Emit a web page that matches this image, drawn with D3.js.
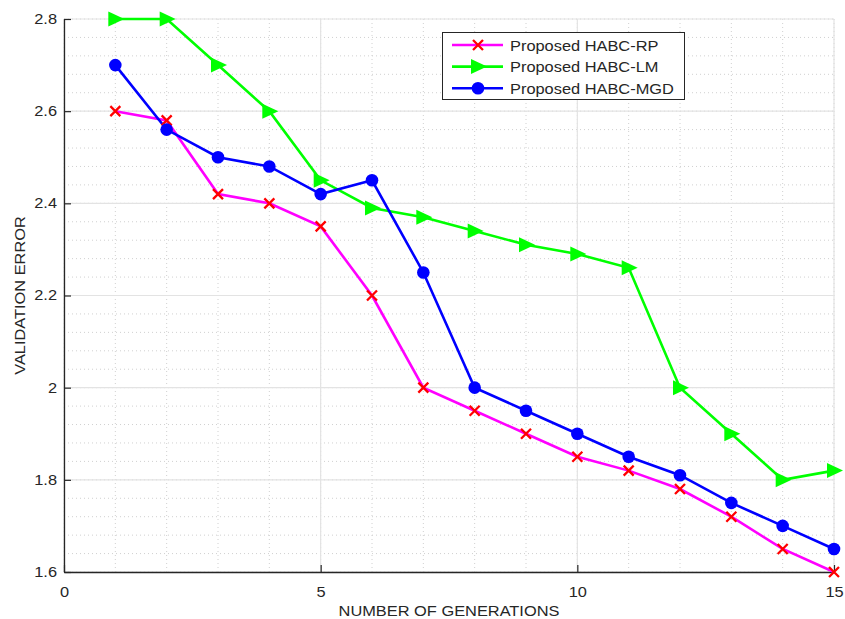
<!DOCTYPE html>
<html>
<head>
<meta charset="utf-8">
<script src="https://cdn.jsdelivr.net/npm/d3@7"></script>
<style>
  html, body { margin: 0; padding: 0; background: #fff; }
  svg { display: block; font-family: "Liberation Sans", Arial, sans-serif; }
</style>
</head>
<body>
<svg id="chart" width="845" height="619"></svg>
<script>
// Generations on the x axis
const generations = [1, 2, 3, 4, 5, 6, 7, 8, 9, 10, 11, 12, 13, 14, 15];

// Validation error for each training scheme
const habcRP  = [2.60, 2.58, 2.42, 2.40, 2.35, 2.20, 2.00, 1.95, 1.90, 1.85, 1.82, 1.78, 1.72, 1.65, 1.60];
const habcLM  = [2.80, 2.80, 2.70, 2.60, 2.45, 2.39, 2.37, 2.34, 2.31, 2.29, 2.26, 2.00, 1.90, 1.80, 1.82];
const habcMGD = [2.70, 2.56, 2.50, 2.48, 2.42, 2.45, 2.25, 2.00, 1.95, 1.90, 1.85, 1.81, 1.75, 1.70, 1.65];

const seriesNames = ["Proposed HABC-RP", "Proposed HABC-LM", "Proposed HABC-MGD"];

const xTicks = [0, 5, 10, 15];
const yTicks = [1.6, 1.8, 2.0, 2.2, 2.4, 2.6, 2.8];
const xLabel = "NUMBER OF GENERATIONS";
const yLabel = "VALIDATION ERROR";

const svg = d3.select("#chart");
const m = { left: 64, right: 834, top: 19, bottom: 572 };

const x = d3.scaleLinear().domain([0, 15]).range([m.left, m.right]);
const y = d3.scaleLinear().domain([1.6, 2.8]).range([m.bottom, m.top]);

const textColor = "#262626";
const STRETCH = 1.17;

// Widen text horizontally to a slightly extended sans look
function widen(sel) {
  sel.each(function () {
    const len = this.getComputedTextLength();
    d3.select(this).attr("textLength", len * STRETCH).attr("lengthAdjust", "spacingAndGlyphs");
  });
}

// Minor grid (dotted)
const g = svg.append("g");
d3.range(0, 16, 1).forEach(v => {
  g.append("line").attr("x1", x(v)).attr("x2", x(v)).attr("y1", m.top).attr("y2", m.bottom)
    .attr("stroke", "#d0d0d0").attr("stroke-width", 1).attr("stroke-dasharray", "1,3");
});
d3.range(0, 31).map(i => 1.6 + i * 0.04).forEach(v => {
  g.append("line").attr("x1", m.left).attr("x2", m.right).attr("y1", y(v)).attr("y2", y(v))
    .attr("stroke", "#d0d0d0").attr("stroke-width", 1).attr("stroke-dasharray", "1,3");
});
// Major grid (solid light)
xTicks.forEach(v => {
  g.append("line").attr("x1", x(v)).attr("x2", x(v)).attr("y1", m.top).attr("y2", m.bottom)
    .attr("stroke", "#e3e3e3").attr("stroke-width", 1.2);
});
yTicks.forEach(v => {
  g.append("line").attr("x1", m.left).attr("x2", m.right).attr("y1", y(v)).attr("y2", y(v))
    .attr("stroke", "#e3e3e3").attr("stroke-width", 1.2);
});

// Axes
const xAxis = d3.axisBottom(x).tickValues(xTicks).tickFormat(d3.format("d"))
  .tickSizeInner(-7).tickSizeOuter(0).tickPadding(15);
const yAxis = d3.axisLeft(y).tickValues(yTicks).tickFormat(d => d === 2 ? "2" : d3.format(".1f")(d))
  .tickSizeInner(-7).tickSizeOuter(0).tickPadding(7);

const gx = svg.append("g").attr("transform", `translate(0,${m.bottom})`).call(xAxis);
const gy = svg.append("g").attr("transform", `translate(${m.left},0)`).call(yAxis);
[gx, gy].forEach(a => {
  a.select(".domain").attr("stroke", "#262626").attr("stroke-width", 1.3);
  a.selectAll(".tick line").attr("stroke", "#262626").attr("stroke-width", 1.2);
  a.selectAll(".tick text").attr("fill", textColor).style("font-size", "14px")
    .style("font-family", "'Liberation Sans', Arial, sans-serif").call(widen);
});

svg.append("text").attr("x", (m.left + m.right) / 2).attr("y", 616)
  .attr("text-anchor", "middle").attr("fill", textColor).style("font-size", "14px").text(xLabel).call(widen);
svg.append("text").attr("transform", `translate(25,${(m.top + m.bottom) / 2}) rotate(-90)`)
  .attr("text-anchor", "middle").attr("fill", textColor).style("font-size", "14px").text(yLabel).call(widen);

// Series
const series = [
  { name: seriesNames[0], values: habcRP,  line: "#ff00ff", marker: "x",   mcolor: "#ff0000" },
  { name: seriesNames[1], values: habcLM,  line: "#00ff00", marker: "tri", mcolor: "#00ff00" },
  { name: seriesNames[2], values: habcMGD, line: "#0000ff", marker: "dot", mcolor: "#0000ff" }
];

const lineGen = d3.line().x((d, i) => x(generations[i])).y(d => y(d));

function drawMarker(sel, type, color, cx, cy) {
  if (type === "x") {
    const s = 5;
    sel.append("path").attr("d", `M${cx - s},${cy - s}L${cx + s},${cy + s}M${cx - s},${cy + s}L${cx + s},${cy - s}`)
      .attr("stroke", color).attr("stroke-width", 2.3).attr("fill", "none");
  } else if (type === "tri") {
    sel.append("path").attr("d", `M${cx - 7},${cy - 7.5}L${cx + 9},${cy}L${cx - 7},${cy + 7.5}Z`)
      .attr("fill", color);
  } else {
    sel.append("circle").attr("cx", cx).attr("cy", cy).attr("r", 6.3).attr("fill", color);
  }
}

const plot = svg.append("g");
series.forEach(s => {
  plot.append("path").datum(s.values).attr("d", lineGen)
    .attr("fill", "none").attr("stroke", s.line).attr("stroke-width", 2.6);
});
series.forEach(s => {
  const mg = plot.append("g");
  s.values.forEach((v, i) => drawMarker(mg, s.marker, s.mcolor, x(generations[i]), y(v)));
});

// Legend
const lg = svg.append("g");
lg.append("rect").attr("x", 442.5).attr("y", 32.5).attr("width", 242).attr("height", 67)
  .attr("fill", "#fff").attr("stroke", "#262626").attr("stroke-width", 1);
series.forEach((s, i) => {
  const ly = 45 + i * 21.6;
  lg.append("line").attr("x1", 452).attr("x2", 503).attr("y1", ly).attr("y2", ly)
    .attr("stroke", s.line).attr("stroke-width", 2.6);
  drawMarker(lg, s.marker, s.mcolor, 478, ly);
  lg.append("text").attr("x", 510).attr("y", ly + 5.5).attr("fill", textColor)
    .style("font-size", "14px").text(s.name).call(widen);
});
</script>
</body>
</html>
